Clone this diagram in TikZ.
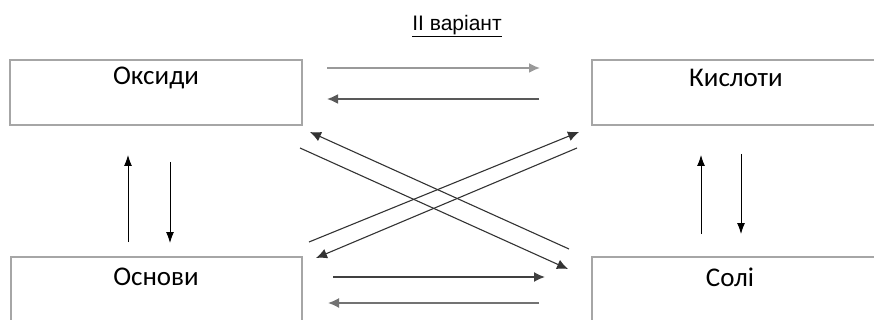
\documentclass[tikz,border=0pt]{standalone}
\usepackage{fontspec}
\setmainfont{Carlito}
\newfontfamily\titlefont{Liberation Sans}
\usetikzlibrary{arrows.meta}
\begin{document}
\begin{tikzpicture}[x=1pt,y=-1pt,
  box/.style={draw=black!35,line width=1.6pt},
  lbl/.style={font=\fontsize{27}{29}\selectfont,text=black,inner sep=0pt},
  arr/.style={-{Latex[length=11pt,width=10pt]},line width=1.1pt,draw=black!80},
  thin arr/.style={-{Latex[length=11pt,width=8pt]},line width=0.9pt,draw=black}]
\useasboundingbox (0,0) rectangle (874,320);
\clip (0,0) rectangle (874,320);
% title
\node[font=\titlefont\fontsize{21}{23}\selectfont,inner sep=0pt] (title) at (457,26) {\underline{II варіант}};
% boxes
\draw[box] (10,60) rectangle (302,125);
\draw[box] (592,60) rectangle (885,125);
\draw[box] (11,257) rectangle (302,335);
\draw[box] (592,257) rectangle (885,335);
\node[lbl] (oks) at (156,78) {Оксиди};
\node[lbl] (kys) at (736,78) {Кислоти};
\node[lbl] (osn) at (156,277) {Основи};
\node[lbl] (sol) at (730,277) {Солі};
% arrow end points
\coordinate (t1s) at (327,68);  \coordinate (t1e) at (540,68);
\coordinate (t2s) at (539,99);  \coordinate (t2e) at (327,99);
\coordinate (b1s) at (333,277); \coordinate (b1e) at (545,277);
\coordinate (b2s) at (539,303); \coordinate (b2e) at (328,303);
\coordinate (l1s) at (128,242); \coordinate (l1e) at (128,155);
\coordinate (l2s) at (170,162); \coordinate (l2e) at (170,243);
\coordinate (r1s) at (701,234); \coordinate (r1e) at (701,155);
\coordinate (r2s) at (741,154); \coordinate (r2e) at (741,234);
\coordinate (dAs) at (300,148); \coordinate (dAe) at (568,269);
\coordinate (dBs) at (569,249); \coordinate (dBe) at (310,132);
\coordinate (dCs) at (309,242); \coordinate (dCe) at (579,132);
\coordinate (dDs) at (577,148); \coordinate (dDe) at (316,258);
% horizontal arrows
\draw[arr,draw=black!40,line width=1.8pt] (t1s) -- (t1e);
\draw[arr,draw=black!65,line width=1.8pt] (t2s) -- (t2e);
\draw[arr,draw=black!75,line width=1.6pt] (b1s) -- (b1e);
\draw[arr,draw=black!55,line width=1.6pt] (b2s) -- (b2e);
% vertical arrows
\draw[thin arr] (l1s) -- (l1e);
\draw[thin arr] (l2s) -- (l2e);
\draw[thin arr] (r1s) -- (r1e);
\draw[thin arr] (r2s) -- (r2e);
% diagonal arrows
\draw[arr] (dAs) -- (dAe);
\draw[arr] (dBs) -- (dBe);
\draw[arr] (dCs) -- (dCe);
\draw[arr] (dDs) -- (dDe);
\end{tikzpicture}
\end{document}
